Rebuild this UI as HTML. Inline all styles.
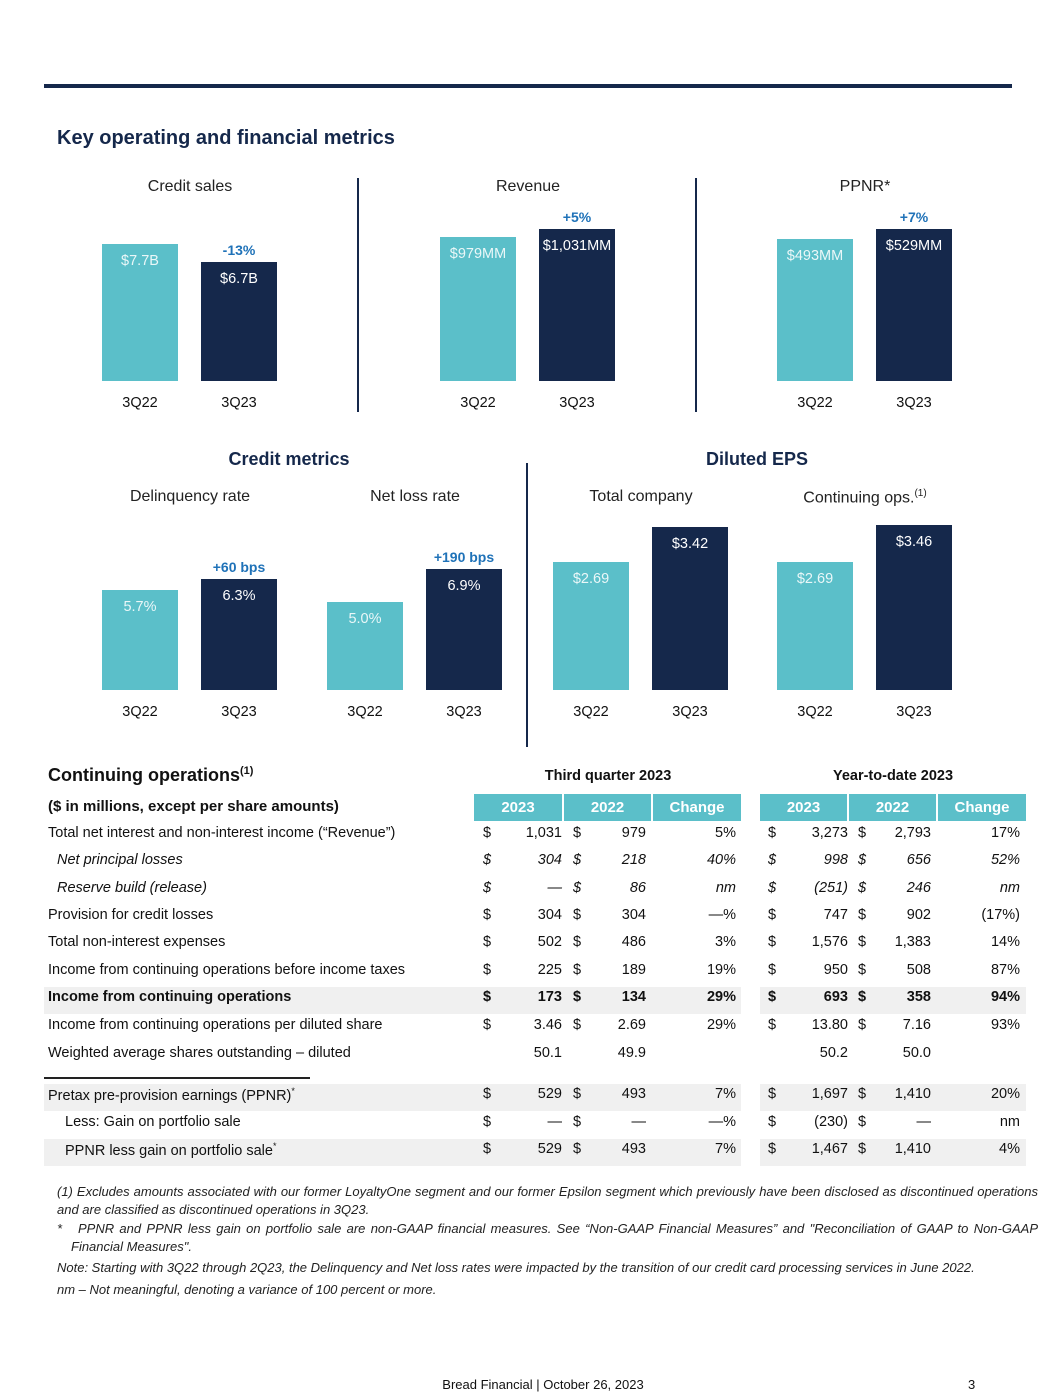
<!DOCTYPE html>
<html><head><meta charset="utf-8">
<style>
body{margin:0;width:1055px;height:1365px;background:#fff;font-family:"Liberation Sans",Arial,sans-serif;position:relative;overflow:hidden;color:#111}
.a{position:absolute;white-space:nowrap}
.c{transform:translateX(-50%)}
.t{font-size:16px;color:#222}
.chg{font-size:14px;font-weight:bold;color:#1f72b8}
.hd{background:#5bbfc9;color:#fff;font-weight:bold;font-size:15px;text-align:center;line-height:27px;height:27px}
.cell{font-size:14.5px}
.fn{font-size:13px;font-style:italic;color:#222;text-align:justify;line-height:18px;box-sizing:border-box}
</style></head><body>
<div class="a" style="left:44px;top:84px;width:968px;height:4px;background:#15284b"></div>
<div class="a" style="left:57px;top:127px;font-size:20px;font-weight:bold;color:#15284b">Key operating and financial metrics</div>

<div class="a" style="left:357px;top:178px;width:2px;height:234px;background:#15284b"></div>
<div class="a" style="left:695px;top:178px;width:2px;height:234px;background:#15284b"></div>
<div class="a" style="left:526px;top:463px;width:2px;height:284px;background:#15284b"></div>

<div class="a c" style="left:289px;top:449px;font-size:18px;font-weight:bold;color:#15284b">Credit metrics</div>
<div class="a c" style="left:757px;top:449px;font-size:18px;font-weight:bold;color:#15284b">Diluted EPS</div>

<div id="charts"></div>

<div class="a" style="left:48px;top:765px;font-size:18px;font-weight:bold">Continuing operations<sup style="font-size:11px">(1)</sup></div>
<div class="a c" style="left:608px;top:768px;font-size:14.5px;font-weight:bold">Third quarter 2023</div>
<div class="a c" style="left:893px;top:768px;font-size:14.5px;font-weight:bold">Year-to-date 2023</div>
<div class="a" style="left:48px;top:798px;font-size:15px;font-weight:bold">($ in millions, except per share amounts)</div>
<div class="a hd" style="left:474px;top:794px;width:88px">2023</div>
<div class="a hd" style="left:564px;top:794px;width:87px">2022</div>
<div class="a hd" style="left:653px;top:794px;width:88px">Change</div>
<div class="a hd" style="left:760px;top:794px;width:87px">2023</div>
<div class="a hd" style="left:849px;top:794px;width:87px">2022</div>
<div class="a hd" style="left:938px;top:794px;width:88px">Change</div>
<div class="a" style="left:44px;top:1077px;width:266px;height:2px;background:#222"></div>
<div id="table"></div>

<div class="a fn" style="left:57px;top:1183px;width:981px;white-space:normal">(1) Excludes amounts associated with our former LoyaltyOne segment and our former Epsilon segment which previously have been disclosed as discontinued operations and are classified as discontinued operations in 3Q23.</div>
<div class="a fn" style="left:57px;top:1220px;width:981px;white-space:normal;padding-left:14px;text-indent:-14px">*&nbsp;&nbsp; PPNR and PPNR less gain on portfolio sale are non-GAAP financial measures. See “Non-GAAP Financial Measures” and "Reconciliation of GAAP to Non-GAAP Financial Measures".</div>
<div class="a fn" style="left:57px;top:1259px">Note: Starting with 3Q22 through 2Q23, the Delinquency and Net loss rates were impacted by the transition of our credit card processing services in June 2022.</div>
<div class="a fn" style="left:57px;top:1281px">nm – Not meaningful, denoting a variance of 100 percent or more.</div>
<div class="a c" style="left:543px;top:1377px;font-size:13px">Bread Financial | October 26, 2023</div>
<div class="a" style="left:968px;top:1377px;font-size:13px">3</div>

<script>
// chart data
const chartTitles=["Credit sales","Revenue","PPNR*","Delinquency rate","Net loss rate","Total company","Continuing ops."];
const categories=["3Q22","3Q23"];
const seriesValues=[[7.7,6.7],[979,1031],[493,529],[5.7,6.3],[5.0,6.9],[2.69,3.42],[2.69,3.46]];
const valueLabels=[["$7.7B","$6.7B"],["$979MM","$1,031MM"],["$493MM","$529MM"],["5.7%","6.3%"],["5.0%","6.9%"],["$2.69","$3.42"],["$2.69","$3.46"]];
const changeLabels=["-13%","+5%","+7%","+60 bps","+190 bps","",""];
const cfg=[{x:102,base:381,ppu:17.8,ty:178},{x:440,base:381,ppu:0.1474,ty:178},{x:777,base:381,ppu:0.2873,ty:178},
{x:102,base:690,ppu:17.6,ty:488},{x:327,base:690,ppu:17.6,ty:488},{x:553,base:690,ppu:47.7,ty:488},{x:777,base:690,ppu:47.7,ty:488}];
const colors=["#5bbfc9","#15284b"];
const root=document.getElementById('charts');
function mk(cls,style,txt){const d=document.createElement('div');d.className='a '+cls;d.style.cssText=style;if(txt!==undefined)d.textContent=txt;root.appendChild(d);return d;}
chartTitles.forEach((t,i)=>{
  const c=cfg[i];const cx=c.x+88;
  const tt=mk('c t','left:'+cx+'px;top:'+c.ty+'px',t);
  
  
  if(i==6){const s=document.createElement('sup');s.textContent='(1)';s.style.fontSize='10px';tt.appendChild(s);}
  seriesValues[i].forEach((v,j)=>{
    const h=v*c.ppu;const bx=c.x+j*99;const top=c.base-h;
    const b=mk('','left:'+bx+'px;top:'+top+'px;width:76px;height:'+h+'px;background:'+colors[j]);
    
    
    const l=mk('c','left:'+(bx+38)+'px;top:'+(top+9)+'px;font-size:14.5px;color:'+(j?'#fff':'#eaf7f8'),valueLabels[i][j]);
    
    
    const x=mk('c','left:'+(bx+38)+'px;top:'+(c.base+14)+'px;font-size:14.5px',categories[j]);
    
    
    if(j==1&&changeLabels[i]){
      const ch=mk('c chg','left:'+(bx+38)+'px;top:'+(top-20)+'px',changeLabels[i]);
      
      
    }
  });
});
// table
const rows=[
["Total net interest and non-interest income (“Revenue”)","1,031","979","5%","3,273","2,793","17%",""],
["Net principal losses","304","218","40%","998","656","52%","i"],
["Reserve build (release)","—","86","nm","(251)","246","nm","i"],
["Provision for credit losses","304","304","—%","747","902","(17%)",""],
["Total non-interest expenses","502","486","3%","1,576","1,383","14%",""],
["Income from continuing operations before income taxes","225","189","19%","950","508","87%",""],
["Income from continuing operations","173","134","29%","693","358","94%","b"],
["Income from continuing operations per diluted share","3.46","2.69","29%","13.80","7.16","93%",""],
["Weighted average shares outstanding – diluted","50.1","49.9","","50.2","50.0","","w"],
["Pretax pre-provision earnings (PPNR)*","529","493","7%","1,697","1,410","20%","s"],
["Less: Gain on portfolio sale","—","—","—%","(230)","—","nm","n"],
["PPNR less gain on portfolio sale*","529","493","7%","1,467","1,410","4%","sn"]];
const rowY=[825,852,880,907,934,962,989,1017,1045,1086,1114,1141];
const tb=document.getElementById('table');
function tk(style,txt){const d=document.createElement('div');d.className='a cell';d.style.cssText=style;d.innerHTML=txt;tb.appendChild(d);return d;}
rows.forEach((r,i)=>{
  const y=rowY[i];const f=r[7];
  if(f.includes('b')||f.includes('s')){
    const bg=tk('left:44px;top:'+(y-2)+'px;width:697px;height:27px;background:#f0f0f0','');
    
    
    const bg2=tk('left:760px;top:'+(y-2)+'px;width:266px;height:27px;background:#f0f0f0','');
    
    
  }
  const st=(f.includes('i')?'font-style:italic;':'')+(f.includes('b')?'font-weight:bold;':'');
  const lx=f.includes('i')?57:(f.includes('n')?65:48);
  let lab=r[0].replace('*','<sup style="font-size:9px">*</sup>');
  const L=tk('left:'+lx+'px;top:'+y+'px;'+st,lab);
  
  
  const cols=[[483,562,r[1]],[573,646,r[2]],[0,736,r[3]],[768,848,r[4]],[858,931,r[5]],[0,1020,r[6]]];
  cols.forEach(cc=>{
    if(cc[0]&&!f.includes('w')){const d=tk('left:'+cc[0]+'px;top:'+y+'px;'+st,'$');
      
      }
    if(cc[2]){const v=tk('left:'+cc[1]+'px;top:'+y+'px;transform:translateX(-100%);'+st,cc[2]);
      
      }
  });
});
</script>
</body></html>
